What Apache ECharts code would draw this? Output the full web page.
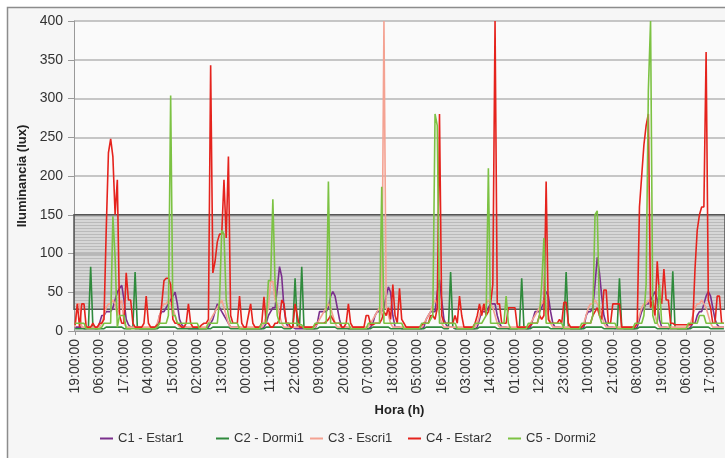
<!DOCTYPE html>
<html>
<head>
<meta charset="utf-8">
<script src="https://cdn.jsdelivr.net/npm/echarts@6/dist/echarts.min.js"></script>
<style>
html,body{margin:0;padding:0;background:#ffffff;}
#chart{width:725px;height:458px;}
</style>
</head>
<body>
<div id="chart"></div>
<script>
// Hourly categories, starting at 19:00:00
const startHour = 19;
const nPoints = 293;
const categories = [];
for (let i = 0; i < nPoints; i++) {
  const h = (startHour + i) % 24;
  categories.push((h < 10 ? '0' : '') + h + ':00:00');
}

const yTicks = { min: 0, max: 400, interval: 50 };
const bandRange = [28, 150];
const seriesNames = ['C1 - Estar1', 'C2 - Dormi1', 'C3 - Escri1', 'C4 - Estar2', 'C5 - Dormi2'];

const c1Estar1 = [
5,5,5,5,3,3,3,3,3,3,3,10,20,20,25,25,25,30,40,50,55,59,40,15,
8,5,5,3,3,3,3,3,3,3,3,3,3,5,20,25,25,30,35,40,45,50,35,15,
8,5,5,3,3,3,3,3,3,3,3,3,5,10,15,25,35,30,25,20,15,10,5,5,
5,5,5,3,3,3,3,3,3,3,3,3,3,5,10,20,25,30,30,55,83,70,30,10,
5,5,5,3,3,3,3,3,3,3,3,3,3,10,25,25,25,25,30,45,51,45,30,15,
5,5,5,3,3,3,3,3,3,3,3,3,3,5,10,20,25,25,25,30,45,57,50,20,
5,5,5,3,3,3,3,3,3,3,3,3,3,5,15,20,25,25,25,50,66,40,15,8,
5,5,5,3,3,3,3,3,3,3,3,3,3,5,15,25,25,25,30,35,35,35,20,10,
5,5,5,3,3,3,3,3,3,3,3,3,3,5,15,25,25,25,30,40,51,45,25,10,
5,5,5,3,3,3,3,3,3,3,3,3,3,5,20,25,25,30,60,95,75,45,20,10,
5,5,5,3,3,3,3,3,3,3,3,3,3,5,15,25,30,35,35,40,45,51,40,15,
5,5,5,3,3,3,3,3,3,3,3,3,3,5,10,10,20,25,25,35,45,51,45,30,
15,8,5,5,5
];

const c2Dormi1 = [
3,3,3,3,3,3,5,83,5,3,3,3,3,3,5,5,5,5,5,5,5,5,3,3,
3,3,5,76,5,3,3,3,3,3,3,3,3,3,5,5,5,5,5,5,5,5,3,3,
3,3,3,3,3,3,3,3,3,3,3,3,3,3,5,5,5,5,5,5,5,5,3,3,
3,3,3,3,3,3,3,3,3,3,3,3,3,3,5,5,5,5,5,5,5,5,3,3,
3,3,5,68,5,5,83,5,3,3,3,3,3,3,5,5,5,5,5,5,5,5,3,3,
3,3,3,3,3,3,3,3,3,3,3,3,3,3,5,5,5,5,5,5,5,5,3,3,
3,3,3,3,3,3,3,3,3,3,3,3,3,3,5,5,5,5,5,5,5,5,3,3,
3,76,5,3,3,3,3,3,3,3,3,3,3,3,5,5,5,5,5,5,5,5,3,3,
3,3,3,3,3,3,3,3,5,68,5,3,3,3,5,5,5,5,5,5,5,5,3,3,
3,3,3,3,5,76,5,3,3,3,3,3,3,3,5,5,5,5,5,5,5,5,3,3,
3,3,3,3,5,68,5,3,3,3,3,3,3,3,5,5,5,5,5,5,5,5,3,3,
3,3,3,3,5,77,5,3,3,3,3,3,3,3,5,5,5,5,5,5,5,5,3,3,
3,3,3,3,3
];

const c3Escri1 = [
5,35,35,5,5,5,5,5,5,5,5,5,10,20,30,35,35,40,35,20,35,40,10,5,
5,5,5,5,5,5,5,5,5,5,5,5,5,10,20,30,35,35,40,35,30,20,10,5,
5,5,5,5,5,5,5,5,5,5,5,5,10,15,20,25,30,35,40,30,20,10,5,5,
5,5,5,5,5,5,5,5,5,5,5,5,5,10,20,30,64,64,40,35,20,10,5,5,
5,5,5,5,5,5,5,5,5,5,5,5,5,10,15,20,25,30,35,30,20,10,5,5,
5,5,5,5,5,5,5,5,5,5,5,5,5,10,15,20,25,30,20,400,30,20,10,5,
5,5,5,5,5,5,5,5,5,5,5,5,5,10,15,20,25,35,40,35,20,10,5,5,
5,5,5,5,5,5,5,5,5,5,5,5,5,10,20,30,35,35,40,35,30,20,10,5,
5,5,5,5,5,5,5,5,5,5,5,5,5,10,15,20,25,30,35,40,30,20,10,5,
5,5,5,5,5,5,5,5,5,5,5,5,5,10,20,30,35,35,40,35,30,20,10,5,
5,5,5,5,5,5,5,5,5,5,5,5,5,10,20,30,35,35,40,35,30,20,10,5,
5,5,5,5,5,5,5,5,5,5,5,5,5,10,20,30,35,35,40,35,30,20,10,5,
5,5,5,5,5
];

const c4Estar2 = [
8,35,5,35,35,5,5,5,10,5,5,10,10,15,130,230,248,225,150,195,20,10,10,75,
40,40,10,5,5,5,5,10,45,10,5,5,5,8,10,35,65,68,68,60,15,10,10,8,
5,5,10,35,10,5,5,5,5,8,10,10,15,343,75,90,115,125,125,195,120,225,20,10,
10,10,45,10,5,5,20,35,10,5,5,5,10,44,10,10,5,5,10,10,15,40,35,10,
10,5,5,35,20,5,5,5,5,5,5,5,8,10,10,10,10,12,15,20,15,10,10,10,
5,5,10,35,10,5,5,5,5,5,5,20,20,8,8,10,10,10,15,25,20,30,15,60,
20,10,55,15,10,5,5,5,5,5,5,5,8,10,10,10,20,20,15,30,280,20,10,10,
10,10,10,20,10,45,20,5,5,5,5,5,10,20,35,20,35,20,25,35,60,400,35,35,
10,10,10,30,30,30,30,5,5,5,5,5,5,8,10,10,10,20,15,20,193,15,10,10,
10,10,15,10,37,37,10,5,5,5,5,5,5,8,10,10,10,20,25,30,20,15,53,53,
10,10,35,35,35,35,5,5,5,5,5,5,5,10,160,200,240,265,280,30,40,20,90,45,
35,80,40,40,10,10,8,8,8,8,8,8,8,8,10,80,130,150,160,160,360,40,30,10,
10,45,45,10,10
];

const c5Dormi2 = [
10,10,10,10,10,3,3,3,3,3,3,3,5,10,10,10,10,148,95,5,20,20,20,3,
3,3,3,3,3,3,3,3,3,3,3,3,3,5,10,10,10,10,20,304,20,20,10,10,
10,10,10,10,10,10,10,10,3,3,3,3,10,10,10,10,10,40,130,125,40,20,10,10,
10,10,3,3,3,3,3,3,3,3,3,3,10,10,10,65,65,170,60,20,10,10,10,10,
10,10,10,10,10,8,8,3,3,3,3,3,10,10,10,10,10,10,193,10,10,10,10,10,
10,10,10,10,3,3,3,3,3,3,3,3,10,10,10,10,10,10,186,10,10,10,10,10,
10,10,10,10,3,3,3,3,3,3,3,3,10,10,10,10,15,20,280,265,10,10,10,10,
10,10,10,10,3,3,3,3,3,3,3,3,10,10,10,10,15,20,210,10,10,10,10,10,
10,10,45,10,3,3,3,3,3,3,3,3,10,10,10,10,10,20,60,120,10,10,10,10,
10,10,10,10,3,3,3,3,3,3,3,3,10,10,10,10,10,20,150,155,20,10,10,10,
10,10,10,10,3,3,3,3,3,3,3,3,10,10,10,10,20,60,310,400,20,10,10,60,
10,10,10,10,3,3,3,3,3,3,3,3,10,10,10,10,10,20,20,20,10,10,10,10,
10,10,10,10,10
];

const seriesData = [c1Estar1, c2Dormi1, c3Escri1, c4Estar2, c5Dormi2];
const colors = ['#7a2f8c', '#2f8a3c', '#f4a292', '#e5231d', '#7cc243'];

// hatch pattern for the band
const pc = document.createElement('canvas');
pc.width = 4; pc.height = 3;
const pctx = pc.getContext('2d');
pctx.fillStyle = 'rgba(160,160,160,0.40)';
pctx.fillRect(0, 0, 4, 3);
pctx.fillStyle = 'rgba(110,110,110,0.28)';
pctx.fillRect(0, 0, 4, 1);

const chart = echarts.init(document.getElementById('chart'), null, { renderer: 'canvas' });

const series = seriesNames.map((name, k) => {
  const s = {
    name: name,
    type: 'line',
    data: seriesData[k],
    symbol: 'none',
    smooth: false,
    lineStyle: { color: colors[k], width: 1.6 },
    itemStyle: { color: colors[k] },
    z: 3 + k
  };
  if (k === 0) {
    s.markArea = {
      silent: true,
      itemStyle: { color: { image: pc, repeat: 'repeat' }, borderColor: '#555', borderWidth: 1.5 },
      data: [[{ yAxis: bandRange[0] }, { yAxis: bandRange[1] }]]
    };
  }
  return s;
});

const legendLefts = [95, 211, 305, 403, 503];
const legends = seriesNames.map((name, k) => ({
  data: [name],
  left: legendLefts[k],
  top: 427,
  icon: 'rect',
  itemWidth: 13,
  itemHeight: 2,
  textStyle: { fontFamily: 'Liberation Sans, Arial', fontSize: 13, color: '#333' }
}));

chart.setOption({
  animation: false,
  backgroundColor: '#ffffff',
  color: colors,
  graphic: [{
    type: 'rect',
    shape: { x: 7.5, y: 7.5, width: 800, height: 600 },
    style: { fill: '#f6f6f6', stroke: '#8c8c8c', lineWidth: 1.5 },
    z: -10,
    silent: true
  }],
  grid: {
    left: 74, top: 21, width: 655, height: 310,
    show: true, backgroundColor: '#fafafa', borderWidth: 0
  },
  legend: legends,
  xAxis: {
    type: 'category',
    data: categories,
    boundaryGap: true,
    name: 'Hora (h)',
    nameLocation: 'middle',
    nameGap: 73,
    nameTextStyle: { fontFamily: 'Liberation Sans, Arial', fontWeight: 'bold', fontSize: 13, color: '#222' },
    axisLine: { lineStyle: { color: '#999', width: 1 } },
    axisTick: { show: true, interval: 10, alignWithLabel: true, length: 4, lineStyle: { color: '#999' } },
    axisLabel: {
      interval: 10, rotate: 90, margin: 8,
      fontFamily: 'Liberation Sans, Arial', fontSize: 14, color: '#333'
    },
    splitLine: { show: false }
  },
  yAxis: {
    type: 'value',
    min: yTicks.min, max: yTicks.max, interval: yTicks.interval,
    name: 'Iluminancia (lux)',
    nameLocation: 'middle',
    nameGap: 34,
    nameTextStyle: { fontFamily: 'Liberation Sans, Arial', fontWeight: 'bold', fontSize: 13, color: '#222' },
    axisLine: { show: true, lineStyle: { color: '#999', width: 1 } },
    axisTick: { show: true, length: 6, lineStyle: { color: '#999' } },
    axisLabel: { margin: 11, fontFamily: 'Liberation Sans, Arial', fontSize: 14, color: '#333' },
    splitLine: { show: true, lineStyle: { color: '#b4b4b4', width: 1.5 } }
  },
  series: series
});
</script>
</body>
</html>
